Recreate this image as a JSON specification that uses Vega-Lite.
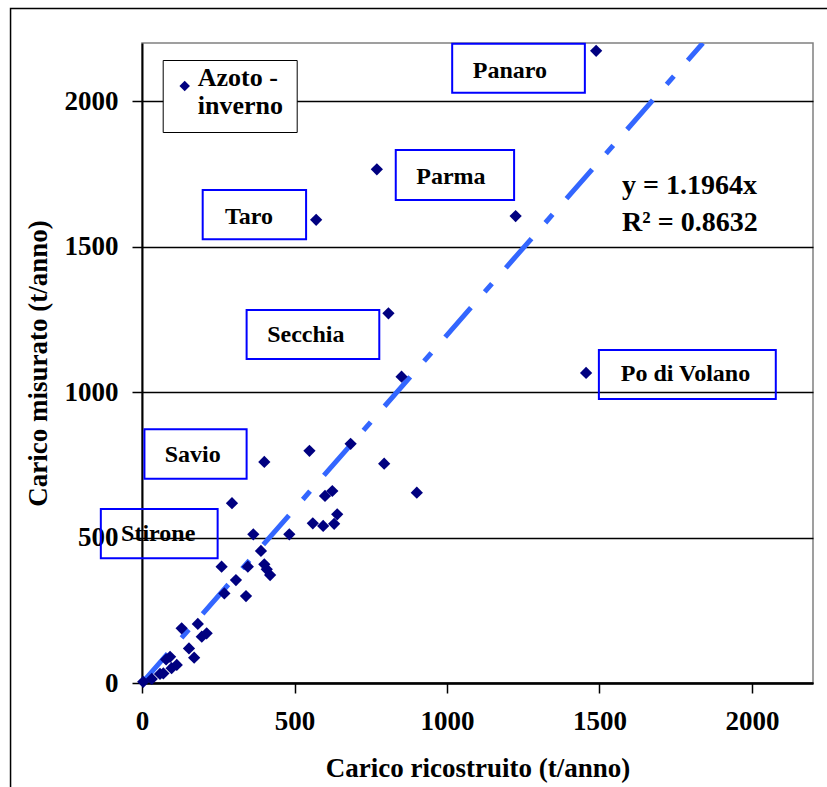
{
  "$schema": "https://vega.github.io/schema/vega-lite/v6.json",
  "width": 671,
  "height": 640,
  "autosize": {"type": "none"},
  "padding": {"left": 142, "top": 43, "right": 14, "bottom": 104},
  "background": "white",
  "config": {
    "view": {"stroke": "#808080", "strokeWidth": 1.5},
    "font": "Liberation Serif"
  },
  "datasets": {
    "punti": [
      {"ricostruito": 1489, "misurato": 2173},
      {"ricostruito": 770, "misurato": 1766},
      {"ricostruito": 1225, "misurato": 1605},
      {"ricostruito": 571, "misurato": 1592},
      {"ricostruito": 808, "misurato": 1271},
      {"ricostruito": 851, "misurato": 1053},
      {"ricostruito": 1456, "misurato": 1066},
      {"ricostruito": 401, "misurato": 760},
      {"ricostruito": 549, "misurato": 798},
      {"ricostruito": 684, "misurato": 822},
      {"ricostruito": 794, "misurato": 754},
      {"ricostruito": 901, "misurato": 654},
      {"ricostruito": 295, "misurato": 618},
      {"ricostruito": 600, "misurato": 643},
      {"ricostruito": 624, "misurato": 660},
      {"ricostruito": 640, "misurato": 580},
      {"ricostruito": 630, "misurato": 547},
      {"ricostruito": 594, "misurato": 540},
      {"ricostruito": 560, "misurato": 549},
      {"ricostruito": 483, "misurato": 511},
      {"ricostruito": 365, "misurato": 511},
      {"ricostruito": 390, "misurato": 454},
      {"ricostruito": 261, "misurato": 400},
      {"ricostruito": 347, "misurato": 400},
      {"ricostruito": 401, "misurato": 408},
      {"ricostruito": 409, "misurato": 391},
      {"ricostruito": 420, "misurato": 371},
      {"ricostruito": 308, "misurato": 354},
      {"ricostruito": 270, "misurato": 308},
      {"ricostruito": 341, "misurato": 299},
      {"ricostruito": 130, "misurato": 188},
      {"ricostruito": 183, "misurato": 203},
      {"ricostruito": 196, "misurato": 159},
      {"ricostruito": 212, "misurato": 171},
      {"ricostruito": 154, "misurato": 119},
      {"ricostruito": 171, "misurato": 87},
      {"ricostruito": 92, "misurato": 90},
      {"ricostruito": 79, "misurato": 81},
      {"ricostruito": 114, "misurato": 62},
      {"ricostruito": 97, "misurato": 51},
      {"ricostruito": 70, "misurato": 33},
      {"ricostruito": 59, "misurato": 31},
      {"ricostruito": 32, "misurato": 14},
      {"ricostruito": 4, "misurato": 4}
    ],
    "etichette": [
      {"nome": "Panaro", "tx": 1206, "ty": 2104, "bx1": 1017, "bx2": 1452, "by1": 2197, "by2": 2029},
      {"nome": "Parma", "tx": 1013, "ty": 1740, "bx1": 832, "bx2": 1220, "by1": 1832, "by2": 1660},
      {"nome": "Taro", "tx": 351, "ty": 1603, "bx1": 199, "bx2": 538, "by1": 1695, "by2": 1525},
      {"nome": "Secchia", "tx": 537, "ty": 1196, "bx1": 343, "bx2": 778, "by1": 1282, "by2": 1114},
      {"nome": "Po di Volano", "tx": 1782, "ty": 1062, "bx1": 1498, "bx2": 2078, "by1": 1145, "by2": 976},
      {"nome": "Savio", "tx": 166, "ty": 784, "bx1": 8, "bx2": 343, "by1": 872, "by2": 702},
      {"nome": "Stirone", "tx": 53, "ty": 511, "bx1": -135, "bx2": 248, "by1": 598, "by2": 429}
    ],
    "tendenza": [
      {"ricostruito": 0, "misurato": 0},
      {"ricostruito": 1839, "misurato": 2200}
    ],
    "equazione": [
      {"riga": "y = 1.1964x", "ex": 1574, "ey": 1682},
      {"riga": "R² = 0.8632", "ex": 1574, "ey": 1553}
    ]
  },
  "layer": [
    {
      "data": {"values": [{}]},
      "mark": {"type": "rect", "filled": false, "stroke": "black", "strokeWidth": 1.5, "clip": false},
      "encoding": {
        "x": {"datum": -431, "type": "quantitative", "scale": {"domain": [0, 2200], "nice": false}},
        "x2": {"datum": 2254},
        "y": {"datum": 2319, "type": "quantitative", "scale": {"domain": [0, 2200], "nice": false}},
        "y2": {"datum": -400}
      }
    },
    {
      "data": {"name": "tendenza"},
      "mark": {"type": "line", "color": "#3366ff", "strokeWidth": 5, "strokeDash": [39, 21, 11, 21], "strokeCap": "butt", "clip": true},
      "encoding": {
        "x": {"field": "ricostruito", "type": "quantitative"},
        "y": {"field": "misurato", "type": "quantitative"}
      }
    },
    {
      "data": {"name": "punti"},
      "mark": {"type": "point", "shape": "diamond", "filled": true, "size": 150, "opacity": 1, "strokeWidth": 0},
      "encoding": {
        "x": {
          "field": "ricostruito",
          "type": "quantitative",
          "scale": {"domain": [0, 2200], "nice": false},
          "axis": {
            "title": "Carico ricostruito  (t/anno)",
            "values": [0, 500, 1000, 1500, 2000],
            "format": "d",
            "grid": false,
            "domainColor": "black",
            "domainWidth": 2.5,
            "tickColor": "black",
            "tickWidth": 1.5,
            "tickSize": 10,
            "labelFont": "Liberation Serif",
            "labelFontSize": 27,
            "labelFontWeight": "bold",
            "labelColor": "black",
            "labelPadding": 15,
            "labelFlush": false,
            "titleFont": "Liberation Serif",
            "titleFontSize": 27,
            "titleFontWeight": "bold",
            "titleColor": "black",
            "titlePadding": 21
          }
        },
        "y": {
          "field": "misurato",
          "type": "quantitative",
          "scale": {"domain": [0, 2200], "nice": false},
          "axis": {
            "title": "Carico misurato  (t/anno)",
            "values": [0, 500, 1000, 1500, 2000],
            "format": "d",
            "grid": true,
            "gridColor": "black",
            "gridWidth": 1.5,
            "domainColor": "black",
            "domainWidth": 2,
            "tickColor": "black",
            "tickWidth": 1.5,
            "tickSize": 10,
            "labelFont": "Liberation Serif",
            "labelFontSize": 27,
            "labelFontWeight": "bold",
            "labelColor": "black",
            "labelPadding": 14,
            "labelFlush": false,
            "titleFont": "Liberation Serif",
            "titleFontSize": 27,
            "titleFontWeight": "bold",
            "titleColor": "black",
            "titlePadding": 12
          }
        },
        "color": {
          "datum": "Azoto - inverno",
          "type": "nominal",
          "scale": {"range": ["#000080"]},
          "legend": {
            "orient": "none",
            "legendX": 20.7,
            "legendY": 17,
            "title": null,
            "symbolType": "diamond",
            "symbolSize": 110,
            "symbolStrokeWidth": 0,
            "symbolOffset": -4,
            "labelExpr": "['Azoto -', 'inverno']",
            "labelFont": "Liberation Serif",
            "labelFontSize": 26,
            "labelFontWeight": "bold",
            "labelColor": "black",
            "labelBaseline": "alphabetic",
            "labelOffset": 0,
            "labelLimit": 300,
            "padding": 13,
            "strokeColor": "black",
            "fillColor": "white"
          }
        }
      }
    },
    {
      "data": {"name": "etichette"},
      "mark": {"type": "rect", "filled": false, "stroke": "#0000ff", "strokeWidth": 2, "clip": false},
      "encoding": {
        "x": {"field": "bx1", "type": "quantitative"},
        "x2": {"field": "bx2"},
        "y": {"field": "by1", "type": "quantitative"},
        "y2": {"field": "by2"}
      }
    },
    {
      "data": {"name": "etichette"},
      "mark": {"type": "text", "font": "Liberation Serif", "fontSize": 24, "fontWeight": "bold", "color": "black", "align": "center", "baseline": "middle", "clip": false},
      "encoding": {
        "x": {"field": "tx", "type": "quantitative"},
        "y": {"field": "ty", "type": "quantitative"},
        "text": {"field": "nome"}
      }
    },
    {
      "data": {"name": "equazione"},
      "mark": {"type": "text", "font": "Liberation Serif", "fontSize": 28, "fontWeight": "bold", "color": "black", "align": "left", "baseline": "alphabetic"},
      "encoding": {
        "x": {"field": "ex", "type": "quantitative"},
        "y": {"field": "ey", "type": "quantitative"},
        "text": {"field": "riga"}
      }
    }
  ]
}
